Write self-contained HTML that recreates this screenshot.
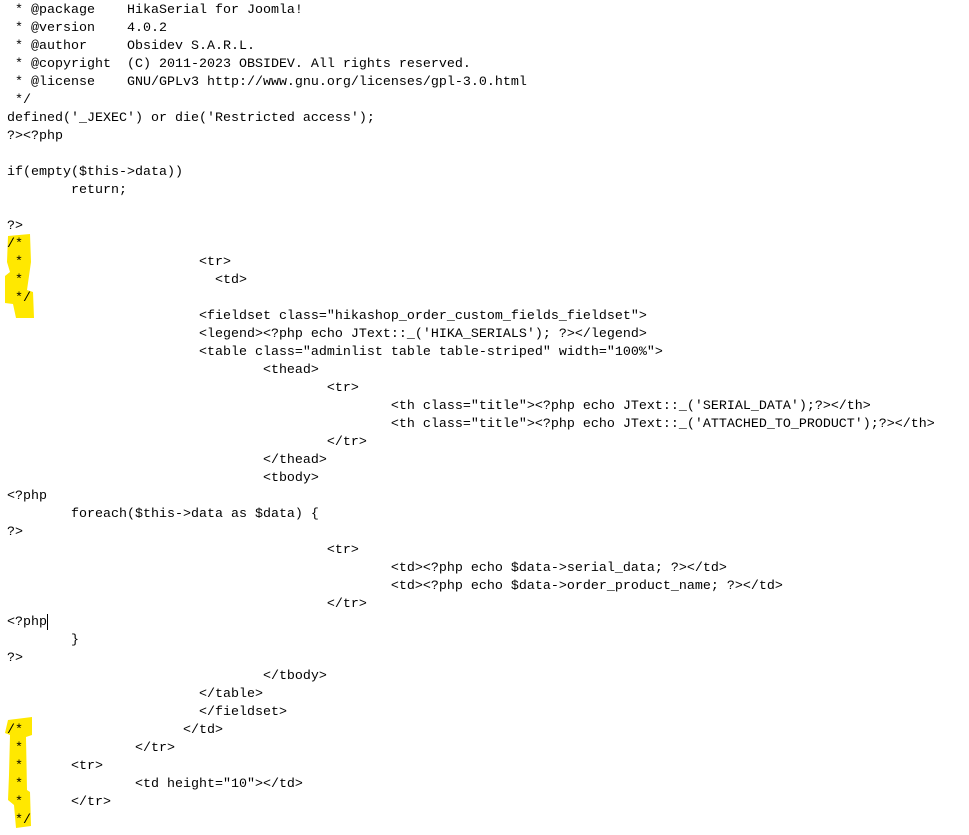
<!DOCTYPE html>
<html><head><meta charset="utf-8"><style>
html,body{margin:0;padding:0;background:#fff;width:969px;height:835px;overflow:hidden;position:relative}
pre{position:absolute;left:7px;top:2px;margin:0;font-family:"Liberation Mono",monospace;font-size:13.33px;line-height:18px;color:#000;white-space:pre}
svg{position:absolute;left:0;top:0}
.cur{position:absolute;left:47px;top:614px;width:1px;height:16px;background:#000}
</style></head><body>
<svg width="969" height="835">
<g fill="#ffe800">
<polygon points="8,236 30,234 31,262 27,290 33,292 34,318 16,318 13,304 5,303 5,276 10,272 7,262"/>
<polygon points="8,720 32,717 32,735 26,737 27,790 30,792 31,826 16,828 14,805 8,800 9,775 10,735 5,733"/>
</g>
</svg>
<pre> * @package    HikaSerial for Joomla!
 * @version    4.0.2
 * @author     Obsidev S.A.R.L.
 * @copyright  (C) 2011-2023 OBSIDEV. All rights reserved.
 * @license    GNU/GPLv3 http://www.gnu.org/licenses/gpl-3.0.html
 */
defined('_JEXEC') or die('Restricted access');
?&gt;&lt;?php

if(empty($this-&gt;data))
        return;

?&gt;
/*
 *                      &lt;tr&gt;
 *                        &lt;td&gt;
 */
                        &lt;fieldset class="hikashop_order_custom_fields_fieldset"&gt;
                        &lt;legend&gt;&lt;?php echo JText::_('HIKA_SERIALS'); ?&gt;&lt;/legend&gt;
                        &lt;table class="adminlist table table-striped" width="100%"&gt;
                                &lt;thead&gt;
                                        &lt;tr&gt;
                                                &lt;th class="title"&gt;&lt;?php echo JText::_('SERIAL_DATA');?&gt;&lt;/th&gt;
                                                &lt;th class="title"&gt;&lt;?php echo JText::_('ATTACHED_TO_PRODUCT');?&gt;&lt;/th&gt;
                                        &lt;/tr&gt;
                                &lt;/thead&gt;
                                &lt;tbody&gt;
&lt;?php
        foreach($this-&gt;data as $data) {
?&gt;
                                        &lt;tr&gt;
                                                &lt;td&gt;&lt;?php echo $data-&gt;serial_data; ?&gt;&lt;/td&gt;
                                                &lt;td&gt;&lt;?php echo $data-&gt;order_product_name; ?&gt;&lt;/td&gt;
                                        &lt;/tr&gt;
&lt;?php
        }
?&gt;
                                &lt;/tbody&gt;
                        &lt;/table&gt;
                        &lt;/fieldset&gt;
/*                    &lt;/td&gt;
 *              &lt;/tr&gt;
 *      &lt;tr&gt;
 *              &lt;td height="10"&gt;&lt;/td&gt;
 *      &lt;/tr&gt;
 */</pre>
<div class="cur"></div>
</body></html>
